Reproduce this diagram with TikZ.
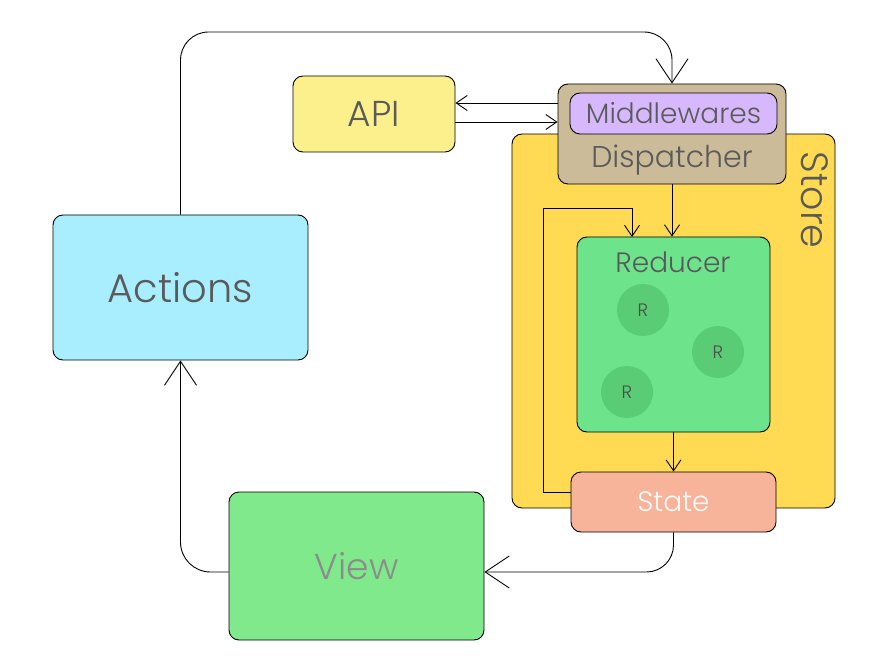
\documentclass[tikz,border=0pt]{standalone}
\usepackage{fontspec}
\setmainfont{Poppins Light}
\usetikzlibrary{arrows.meta}
\definecolor{apifill}{HTML}{FCF08C}
\definecolor{dispfill}{HTML}{CBBB98}
\definecolor{mwfill}{HTML}{D8B8FC}
\definecolor{storefill}{HTML}{FFDA52}
\definecolor{redfill}{HTML}{6DE48C}
\definecolor{rfill}{HTML}{5ACC76}
\definecolor{statefill}{HTML}{F7B49A}
\definecolor{actfill}{HTML}{A8EEFF}
\definecolor{viewfill}{HTML}{80E98C}
\definecolor{txtgray}{HTML}{5A5A5A}
\begin{document}
\begin{tikzpicture}[x=1pt,y=-1pt,
  box/.style={draw=black, line width=0.9pt, rounded corners=10pt, inner sep=0pt},
  lbl/.style={inner sep=0pt, text=txtgray},
  rcirc/.style={circle, fill=rfill, draw=none, minimum size=52pt, inner sep=0pt, text=black!70, font=\fontsize{18}{18}\selectfont},
  conn/.style={draw=black, line width=0.9pt},
  bigtip/.style={conn, -{Straight Barb[length=24pt,width=32pt,line width=0.9pt]}},
  smalltip/.style={conn, -{Straight Barb[length=11pt,width=15pt,line width=0.9pt]}}
]
\useasboundingbox (0,0) rectangle (880,660);

% Store
\node[box, fill=storefill, minimum width=323pt, minimum height=374pt] (store) at (673.5,321) {};
\node[lbl, rotate=-90, text=black!65, font=\fontsize{38}{38}\selectfont] (storelbl) at (815,200) {Store};

% Dispatcher container
\node[box, fill=dispfill, minimum width=228pt, minimum height=100pt] (disp) at (672,134) {};
\node[lbl, font=\fontsize{30}{30}\selectfont] (displbl) at (672,160) {Dispatcher};
\node[box, fill=mwfill, minimum width=207pt, minimum height=41pt, text=txtgray, font=\fontsize{28}{28}\selectfont] (mw) at (673.5,113.5) {Middlewares};

% Reducer
\node[box, fill=redfill, minimum width=193pt, minimum height=195pt] (red) at (673.5,334.5) {};
\node[lbl, text=black!65, font=\fontsize{28}{28}\selectfont] (redlbl) at (673,262) {Reducer};
\node[rcirc] (r1) at (643,310) {R};
\node[rcirc] (r2) at (718,352) {R};
\node[rcirc] (r3) at (627,392) {R};

% State
\node[box, fill=statefill, minimum width=205pt, minimum height=60pt, text=white!92!statefill, font=\fontsize{28}{28}\selectfont] (state) at (673.5,502) {State};

% API
\node[box, fill=apifill, minimum width=162pt, minimum height=76pt, text=txtgray, font=\fontsize{36}{36}\selectfont] (api) at (374,114) {API};

% Actions
\node[box, fill=actfill, minimum width=255pt, minimum height=145pt, text=txtgray, font=\fontsize{40}{40}\selectfont] (actions) at (180.5,287.5) {Actions};

% View
\node[box, fill=viewfill, minimum width=255pt, minimum height=148pt, text=black!45, font=\fontsize{36}{36}\selectfont] (view) at (356.5,566) {View};

% helper coordinates
\coordinate (ytop) at (0,32);
\coordinate (yapi1) at (0,103);
\coordinate (yapi2) at (0,122);
\coordinate (yview) at (0,572);
\coordinate (loopA) at (543,492);
\coordinate (loopB) at (543,208);
\coordinate (loopC) at (632,208);
\coordinate (loopD) at (632,237);

% connectors
\draw[bigtip, rounded corners=28pt] (actions.north) |- (disp.north |- ytop) -- (disp.north);
\draw[smalltip] (disp.west |- yapi1) -- (api.east |- yapi1);
\draw[smalltip] (api.east |- yapi2) -- (disp.west |- yapi2);
\draw[smalltip] (disp.south) -- (red.north -| disp.south);
\draw[conn] (state.west |- loopA) -- (loopA) -- (loopB) -- (loopC);
\draw[smalltip] (loopC) -- (loopD);
\draw[smalltip] (red.south) -- (state.north);
\draw[bigtip, rounded corners=27pt] (state.south) |- (view.east |- yview);
\draw[bigtip, rounded corners=30pt] (view.west |- yview) -| (actions.south);
\end{tikzpicture}
\end{document}
